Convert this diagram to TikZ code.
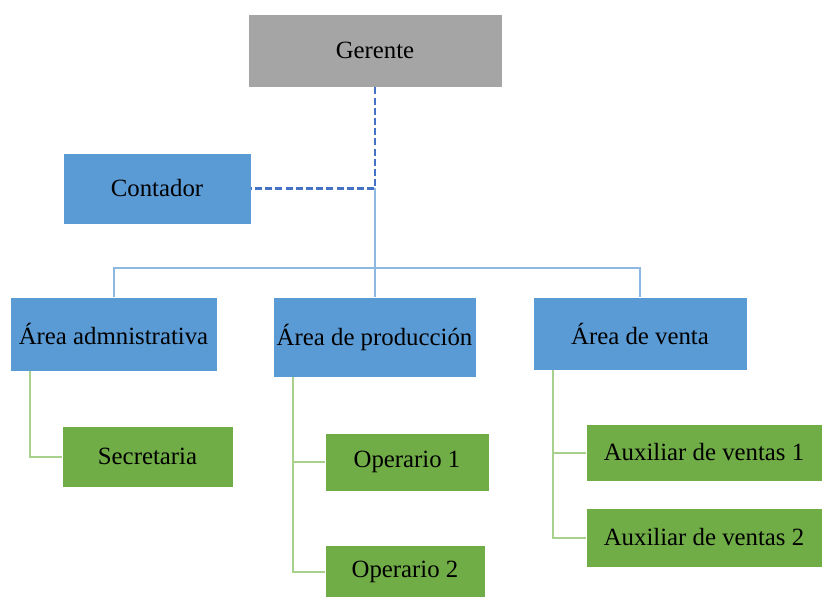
\documentclass[tikz,border=0pt]{standalone}
\usepackage{fontspec}
\setmainfont{Liberation Serif}
\definecolor{gris}{HTML}{A5A5A5}
\definecolor{azul}{HTML}{5B9BD5}
\definecolor{verde}{HTML}{70AD47}
\definecolor{lineaazul}{HTML}{8DB8E2}
\definecolor{lineaverde}{HTML}{A9D18E}
\definecolor{trazo}{HTML}{4472C4}
\begin{document}
\begin{tikzpicture}[x=.5pt,y=-.5pt,
    caja/.style={rectangle,draw=white,line width=.4pt,inner sep=0pt,
        font=\fontsize{12.4}{15}\selectfont},
    jefe/.style={caja,fill=gris},
    area/.style={caja,fill=azul},
    cargo/.style={caja,fill=verde},
    enlace/.style={draw=lineaazul,line width=1pt},
    rama/.style={draw=lineaverde,line width=1pt},
    asesor/.style={draw=trazo,line width=1.2pt,dash pattern=on 3.5pt off 1.6pt},
]
    \useasboundingbox (0,0) rectangle (822,597);
    \path
    (375,50.5) node[jefe,minimum width=127pt,minimum height=36.5pt] (G) {Gerente} % <<< nivel 1
    (157,188.5) node[area,minimum width=94pt,minimum height=35.5pt] (C) {Contador}
    (113.5,334) node[area,minimum width=103.5pt,minimum height=37pt] (A) {Área admnistrativa} % <<< nivel 2
    (374.5,337) node[area,minimum width=101.5pt,minimum height=40pt] (P) {Área de producción}
    (640,333.5) node[area,minimum width=107pt,minimum height=36.5pt] (V) {Área de venta}
    (147.5,456.5) node[cargo,minimum width=85.5pt,minimum height=30.5pt] (S) {Secretaria} % <<< nivel 3
    (407,462) node[cargo,minimum width=82pt,minimum height=29pt] (O1) {Operario 1}
    (405,572) node[cargo,minimum width=80pt,minimum height=27pt] (O2) {Operario 2}
    (704,452.5) node[cargo,minimum width=118pt,minimum height=28.5pt] (X1) {Auxiliar de ventas 1}
    (704,537.5) node[cargo,minimum width=118pt,minimum height=29.5pt] (X2) {Auxiliar de ventas 2};
    \coordinate (j) at (374.5,188);
    \coordinate (b) at (374.5,268);
    \draw[enlace] (j) -- (P.north);
    \draw[enlace] (A.north) |- (b) -| (V.north);
    \draw[asesor] (G.south) |- (C.east);
    \draw[rama] ([xshift=10pt]A.south west) |- (S.west);
    \draw[rama] ([xshift=10pt]P.south west) |- (O1.west);
    \draw[rama] ([xshift=10pt]P.south west) |- (O2.west);
    \draw[rama] ([xshift=10pt]V.south west) |- (X1.west);
    \draw[rama] ([xshift=10pt]V.south west) |- (X2.west);
\end{tikzpicture}
\end{document}
